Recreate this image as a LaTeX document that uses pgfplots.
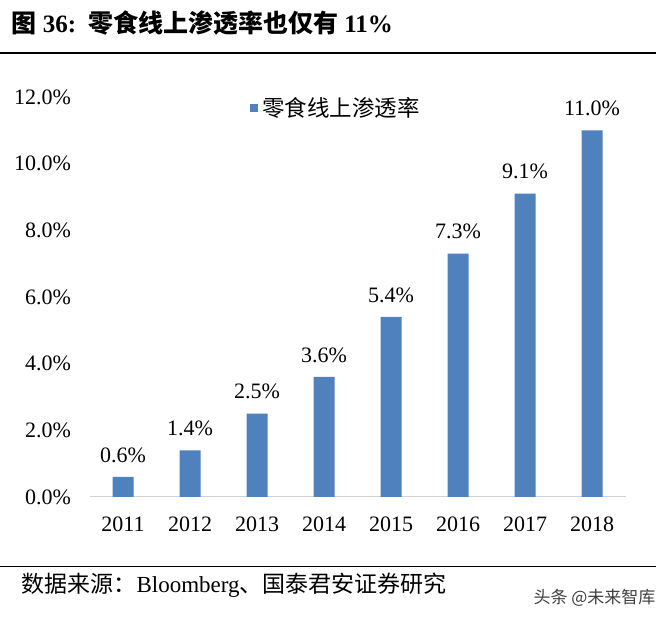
\documentclass[border=0pt]{standalone}
\usepackage{fontspec}
\setmainfont{Liberation Serif}
\newfontfamily\cjk{Noto Sans CJK SC}
\usepackage{pgfplots}
\pgfplotsset{compat=1.18}
\definecolor{barblue}{RGB}{79,129,189}
\begin{document}
\begin{tikzpicture}[x=1bp,y=1bp]
\path[use as bounding box, fill=white] (0,0) rectangle (664,623);
\begin{axis}[
  at={(89.5bp,126bp)}, anchor=south west,
  scale only axis, width=536bp, height=400bp,
  xmin=-0.5, xmax=7.5, ymin=0, ymax=12,
  xtick={0,1,2,3,4,5,6,7},
  xticklabels={2011,2012,2013,2014,2015,2016,2017,2018},
  ytick={0,2,4,6,8,10,12},
  /pgf/number format/assume math mode=true,
  yticklabel={\pgfmathprintnumber[fixed,fixed zerofill,precision=1]{\tick}\%},
  axis x line=bottom, axis y line=left,
  x axis line style={draw=black!18, line width=1bp, -},
  y axis line style={draw=none},
  major tick length=0pt,
  tick label style={font=\fontsize{22bp}{25bp}\selectfont},
  yticklabel style={xshift=-15bp},
  xticklabel style={yshift=-16bp},
  ybar, bar width=21bp,
  nodes near coords={\pgfmathprintnumber[fixed,fixed zerofill,precision=1]{\pgfplotspointmeta}\%},
  nodes near coords style={font=\fontsize{22bp}{25bp}\selectfont, anchor=south, yshift=11bp},
  legend style={at={(0.2994,0.9725)}, anchor=west, draw=none, fill=none, inner sep=0pt,
    font=\fontsize{22.5bp}{25bp}\selectfont},
  legend image code/.code={\fill[barblue] (0bp,-4bp) rectangle (8bp,4bp);},
]
\addplot[fill=barblue, draw=none] coordinates {(0,0.6) (1,1.4) (2,2.5) (3,3.6) (4,5.4) (5,7.3) (6,9.1) (7,11.0)};
\addlegendentry{\hspace{2bp}\cjk 零食线上渗透率}
\end{axis}
\node[anchor=west, font=\fontsize{25bp}{28bp}\selectfont\bfseries] at (8,600) {{\cjk 图} 36:\hspace{12bp}{\cjk 零食线上渗透率也仅有} 11\%};
\draw[line width=2.5bp] (0,570) -- (656,570);
\draw[line width=0.8bp] (0,57) -- (656,57);
\node[anchor=west, font=\fontsize{23bp}{26bp}\selectfont] at (18,38) {{\cjk 数据来源：}Bloomberg{\cjk 、国泰君安证券研究}};
\node[anchor=east, font=\fontsize{17bp}{20bp}\selectfont, text=black!75] at (659,25) {\cjk 头条 @未来智库};
\end{tikzpicture}
\end{document}
